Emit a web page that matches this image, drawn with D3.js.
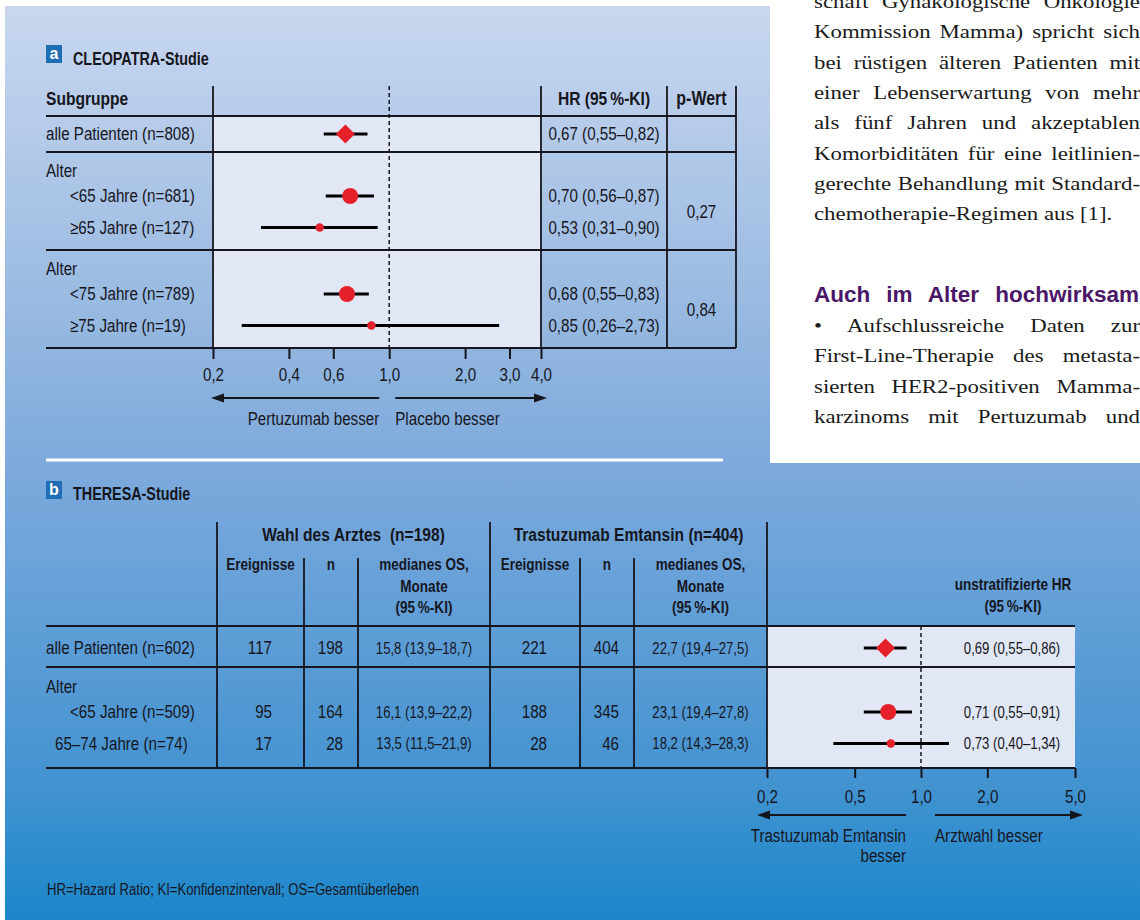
<!DOCTYPE html>
<html>
<head>
<meta charset="utf-8">
<script src="https://cdn.jsdelivr.net/npm/d3@7"></script>
<style>
  html, body { margin: 0; padding: 0; background: #fff; }
  svg { display: block; }
  .cn { font-family: "Liberation Sans", Arial, sans-serif; }
  .serif { font-family: "Liberation Serif", "Times New Roman", serif; }
  .head { font-family: "Liberation Sans", Arial, sans-serif; }
</style>
</head>
<body>
<svg id="chart" width="1140" height="920"></svg>
<script>
// ---------- CLEOPATRA subgroup data ----------
const cleoLabels = ["alle Patienten (n=808)", "<65 Jahre (n=681)", "≥65 Jahre (n=127)", "<75 Jahre (n=789)", "≥75 Jahre (n=19)"];
const cleoGroup  = [0, 1, 1, 2, 2];
const cleoGroupTitles = ["", "Alter", "Alter"];
const cleoPValues = ["", "0,27", "0,84"];
const cleoN  = [808, 681, 127, 789, 19];
const cleoHR = [0.67, 0.70, 0.53, 0.68, 0.85];
const cleoLo = [0.55, 0.56, 0.31, 0.55, 0.26];
const cleoHi = [0.82, 0.87, 0.90, 0.83, 2.73];
const cleoTicks = [0.2, 0.4, 0.6, 1.0, 2.0, 3.0, 4.0];

// ---------- THERESA subgroup data ----------
const thLabels = ["alle Patienten (n=602)", "<65 Jahre (n=509)", "65–74 Jahre (n=74)"];
const thGroup  = [0, 1, 1];
const thGroupTitles = ["", "Alter"];
const thN = [602, 509, 74];
const pcEvents = [117, 95, 17];
const pcN      = [198, 164, 28];
const pcOS     = ["15,8 (13,9–18,7)", "16,1 (13,9–22,2)", "13,5 (11,5–21,9)"];
const tdEvents = [221, 188, 28];
const tdN      = [404, 345, 46];
const tdOS     = ["22,7 (19,4–27,5)", "23,1 (19,4–27,8)", "18,2 (14,3–28,3)"];
const thHR = [0.69, 0.71, 0.73];
const thLo = [0.55, 0.55, 0.40];
const thHi = [0.86, 0.91, 1.34];
const thTicks = [0.2, 0.5, 1.0, 2.0, 5.0];

// ---------- running article text beside the figure ----------
const columnLines = [
  "schaft Gynäkologische Onkologie",
  "Kommission Mamma) spricht sich",
  "bei rüstigen älteren Patienten mit",
  "einer Lebenserwartung von mehr",
  "als fünf Jahren und akzeptablen",
  "Komorbiditäten für eine leitlinien-",
  "gerechte Behandlung mit Standard-",
  "chemotherapie-Regimen aus [1]."
];
const columnHeading = "Auch im Alter hochwirksam";
const columnLines2 = [
  "• Aufschlussreiche Daten zur",
  "First-Line-Therapie des metasta-",
  "sierten HER2-positiven Mamma-",
  "karzinoms mit Pertuzumab und"
];

// ---------- setup ----------
const W = 1140, H = 920;
const ink = "#16161e";
const red = "#e6202a";
const plotFill = "#e1e7f4";
const narrow = 0.82;      // horizontal squeeze for the condensed table face
const serifWide = 1.17;   // horizontal stretch for the article face
const svg = d3.select("#chart");
const de = d3.formatLocale({ decimal: ",", thousands: ".", grouping: [3], currency: ["", " €"] });
const f1 = de.format(".1f"), f2 = de.format(".2f");
const hrText = (h, l, u) => `${f2(h)} (${f2(l)}–${f2(u)})`;
const markerR = d3.scaleThreshold().domain([200]).range([4.2, 8]);

// background panel
const defs = svg.append("defs");
const grad = defs.append("linearGradient").attr("id", "bg").attr("x1", 0).attr("y1", 0).attr("x2", 0).attr("y2", 1);
[[0, "#c8d7ef"], [0.26, "#a3c0e4"], [0.5, "#7eaadb"], [0.65, "#64a0d8"], [0.85, "#4393d0"], [1, "#1b87ca"]]
  .forEach(([o, c]) => grad.append("stop").attr("offset", o).attr("stop-color", c));
svg.append("rect").attr("width", W).attr("height", H).attr("fill", "#fff");
svg.append("rect").attr("x", 5).attr("y", 6).attr("width", W - 5).attr("height", H - 6).attr("fill", "url(#bg)");
svg.append("rect").attr("x", 770).attr("y", 0).attr("width", W - 770).attr("height", 463).attr("fill", "#fff");

// row layout: groups stacked below a header line
function layoutRows(groupIdx, titles, top, p) {
  const rowY = [], titleY = [], seps = [top];
  let y = top;
  titles.forEach((t, g) => {
    const members = groupIdx.map((d, i) => d === g ? i : -1).filter(i => i >= 0);
    if (t) {
      titleY[g] = y + p.titleOff;
      members.forEach((i, k) => rowY[i] = y + p.firstT + p.step * k);
      y = rowY[members[members.length - 1]] + p.afterT;
    } else {
      titleY[g] = null;
      members.forEach((i, k) => rowY[i] = y + p.first + p.step * k);
      y = rowY[members[members.length - 1]] + p.after;
    }
    seps.push(y);
  });
  return { rowY, titleY, seps };
}

function hline(g, x1, x2, y, w = 1.8, c = ink) {
  g.append("line").attr("x1", x1).attr("x2", x2).attr("y1", y).attr("y2", y)
    .attr("stroke", c).attr("stroke-width", w);
}
function vline(g, x, y1, y2, w = 1.8) {
  g.append("line").attr("x1", x).attr("x2", x).attr("y1", y1).attr("y2", y2)
    .attr("stroke", ink).attr("stroke-width", w);
}
// condensed label: drawn at the origin and squeezed horizontally around its anchor
function txt(g, x, y, s, opt = {}) {
  return g.append("text").attr("class", "cn")
    .attr("transform", `translate(${x},${y}) scale(${narrow},1)`)
    .attr("font-size", opt.size || 18.5).attr("font-weight", opt.bold ? "bold" : null)
    .attr("text-anchor", opt.anchor || "start").attr("fill", opt.fill || ink)
    .style("white-space", "pre").text(s);
}
function arrow(g, x1, x2, y) {
  const dir = Math.sign(x2 - x1);
  g.append("line").attr("x1", x1).attr("x2", x2 - dir * 8).attr("y1", y).attr("y2", y)
    .attr("stroke", ink).attr("stroke-width", 2);
  g.append("path").attr("d", `M${x2},${y}L${x2 - dir * 13},${y - 4.5}L${x2 - dir * 13},${y + 4.5}Z`).attr("fill", ink);
}
function badge(g, x, y, letter) {
  g.append("rect").attr("x", x).attr("y", y).attr("width", 16).attr("height", 18).attr("fill", "#1f6db4");
  g.append("text").attr("class", "head").attr("x", x + 8).attr("y", y + 14).attr("text-anchor", "middle")
    .attr("font-size", 16).attr("font-weight", "bold").attr("fill", "#fff").text(letter);
}
function drawMarks(g, x, ys, hr, lo, hi, n, groupIdx) {
  const rows = hr.map((h, i) => ({ h, l: lo[i], u: hi[i], n: n[i], y: ys[i], overall: groupIdx[i] === 0 }));
  g.selectAll("line.ci").data(rows).join("line").attr("class", "ci")
    .attr("x1", d => x(d.l)).attr("x2", d => x(d.u)).attr("y1", d => d.y).attr("y2", d => d.y)
    .attr("stroke", "#000").attr("stroke-width", 3);
  g.selectAll("path.dia").data(rows.filter(d => d.overall)).join("path").attr("class", "dia")
    .attr("d", d => { const cx = x(d.h), s = 9.5; return `M${cx - s},${d.y}L${cx},${d.y - s}L${cx + s},${d.y}L${cx},${d.y + s}Z`; })
    .attr("fill", red);
  g.selectAll("circle.pt").data(rows.filter(d => !d.overall)).join("circle").attr("class", "pt")
    .attr("cx", d => x(d.h)).attr("cy", d => d.y).attr("r", d => markerR(d.n)).attr("fill", red);
}
function styleAxis(ax) {
  ax.select(".domain").remove();
  ax.selectAll(".tick line").attr("stroke", ink).attr("stroke-width", 2);
  ax.selectAll(".tick text").attr("class", "cn").attr("font-size", 18.5).attr("fill", ink)
    .attr("transform", `scale(${narrow},1)`);
}

// ================= Panel a: CLEOPATRA =================
const ga = svg.append("g");
badge(ga, 46, 45, "a");
txt(ga, 73, 65, "CLEOPATRA-Studie", { bold: true, size: 17.5 });

const aL = 46, aLab = 213, aPlotR = 541, aHrR = 667, aR = 736, aTop = 86, aHead = 116;
const xA = d3.scaleLog().domain([0.2, 4]).range([aLab, aPlotR]);
const LA = layoutRows(cleoGroup, cleoGroupTitles, aHead, { first: 18, after: 18, titleOff: 19, firstT: 44, step: 31.5, afterT: 22.5 });
const aBottom = LA.seps[LA.seps.length - 1];

ga.append("rect").attr("x", aLab).attr("y", aHead).attr("width", aPlotR - aLab).attr("height", aBottom - aHead).attr("fill", plotFill);
ga.append("line").attr("x1", xA(1)).attr("x2", xA(1)).attr("y1", aTop).attr("y2", aBottom)
  .attr("stroke", ink).attr("stroke-width", 1.5).attr("stroke-dasharray", "4,3");
LA.seps.forEach(y => hline(ga, aL, aR, y));
[aLab, aPlotR, aHrR, aR].forEach(x => vline(ga, x, aTop, aBottom));

txt(ga, aL, 105, "Subgruppe", { bold: true, size: 19 });
txt(ga, (aPlotR + aHrR) / 2, 105, "HR (95\u2009%-KI)", { bold: true, anchor: "middle", size: 19 });
txt(ga, (aHrR + aR) / 2, 105, "p-Wert", { bold: true, anchor: "middle", size: 19.5 });

cleoGroupTitles.forEach((t, g) => { if (t) txt(ga, aL, LA.titleY[g] + 6, t); });
cleoLabels.forEach((s, i) => txt(ga, cleoGroup[i] ? 70 : aL, LA.rowY[i] + 6, s));
cleoHR.forEach((h, i) => txt(ga, (aPlotR + aHrR) / 2, LA.rowY[i] + 6, hrText(h, cleoLo[i], cleoHi[i]), { anchor: "middle" }));
cleoPValues.forEach((p, g) => {
  if (!p) return;
  const ys = cleoGroup.map((d, i) => d === g ? LA.rowY[i] : null).filter(v => v !== null);
  txt(ga, (aHrR + aR) / 2, d3.mean(ys) + 6, p, { anchor: "middle" });
});
drawMarks(ga.append("g"), xA, LA.rowY, cleoHR, cleoLo, cleoHi, cleoN, cleoGroup);

const axA = ga.append("g").attr("transform", `translate(0,${aBottom})`)
  .call(d3.axisBottom(xA).tickValues(cleoTicks).tickFormat(f1).tickSize(11).tickPadding(9));
styleAxis(axA);

arrow(ga, xA(1) - 10, xA(0.2) - 2, 398);
arrow(ga, xA(1) + 6, xA(4) + 6, 398);
txt(ga, xA(1) - 10, 425, "Pertuzumab besser", { anchor: "end" });
txt(ga, xA(1) + 6, 425, "Placebo besser");

hline(ga, 46, 723, 460, 3, "#fff");

// ================= Panel b: THERESA =================
const gb = svg.append("g");
badge(gb, 46, 481, "b");
txt(gb, 73, 500, "THERESA-Studie", { bold: true, size: 17.5 });

const bL = 46, bLab = 217, bC1 = 304, bC2 = 358, bMid = 490, bC4 = 580, bC5 = 634, bPlotL = 767, bPlotR = 1075;
const bTop = 522, bSub = 558, bHead = 626;
const xB = d3.scaleLog().domain([0.2, 5]).range([bPlotL, bPlotR]);
const LB = layoutRows(thGroup, thGroupTitles, bHead, { first: 22, after: 19, titleOff: 20, firstT: 45, step: 31.5, afterT: 24.5 });
const bBottom = LB.seps[LB.seps.length - 1];

gb.append("rect").attr("x", bPlotL).attr("y", bHead).attr("width", bPlotR - bPlotL).attr("height", bBottom - bHead).attr("fill", plotFill);
gb.append("line").attr("x1", xB(1)).attr("x2", xB(1)).attr("y1", bHead).attr("y2", bBottom)
  .attr("stroke", ink).attr("stroke-width", 1.5).attr("stroke-dasharray", "4,3");
LB.seps.forEach(y => hline(gb, bL, bPlotR, y));
[bLab, bMid, bPlotL].forEach(x => vline(gb, x, bTop, bBottom));
[bC1, bC2, bC4, bC5].forEach(x => vline(gb, x, bSub, bBottom));

txt(gb, (bLab + bMid) / 2, 541, "Wahl des Arztes  (n=198)", { bold: true, anchor: "middle", size: 19 });
txt(gb, (bMid + bPlotL) / 2, 541, "Trastuzumab Emtansin (n=404)", { bold: true, anchor: "middle", size: 19 });
const subHead = [[bLab, bC1, ["Ereignisse"]], [bC1, bC2, ["n"]], [bC2, bMid, ["medianes OS,", "Monate", "(95\u2009%-KI)"]],
                 [bMid, bC4, ["Ereignisse"]], [bC4, bC5, ["n"]], [bC5, bPlotL, ["medianes OS,", "Monate", "(95\u2009%-KI)"]]];
subHead.forEach(([a, b, lines]) => lines.forEach((s, k) => txt(gb, (a + b) / 2, 570 + 21.5 * k, s, { bold: true, size: 16.5, anchor: "middle" })));
txt(gb, 1013, 590, "unstratifizierte HR", { bold: true, size: 16.5, anchor: "middle" });
txt(gb, 1013, 611.5, "(95\u2009%-KI)", { bold: true, size: 16.5, anchor: "middle" });

const thIndent = [0, 24, 9];
thGroupTitles.forEach((t, g) => { if (t) txt(gb, bL, LB.titleY[g] + 6, t); });
thLabels.forEach((s, i) => txt(gb, bL + thIndent[i], LB.rowY[i] + 6, s));
pcEvents.forEach((v, i) => txt(gb, bC1 - 32, LB.rowY[i] + 6, v, { anchor: "end" }));
pcN.forEach((v, i) => txt(gb, bC2 - 15, LB.rowY[i] + 6, v, { anchor: "end" }));
pcOS.forEach((v, i) => txt(gb, (bC2 + bMid) / 2, LB.rowY[i] + 5.5, v, { anchor: "middle", size: 16 }));
tdEvents.forEach((v, i) => txt(gb, bC4 - 33, LB.rowY[i] + 6, v, { anchor: "end" }));
tdN.forEach((v, i) => txt(gb, bC5 - 15, LB.rowY[i] + 6, v, { anchor: "end" }));
tdOS.forEach((v, i) => txt(gb, (bC5 + bPlotL) / 2, LB.rowY[i] + 5.5, v, { anchor: "middle", size: 16 }));
thHR.forEach((h, i) => txt(gb, 1012, LB.rowY[i] + 5.5, hrText(h, thLo[i], thHi[i]), { anchor: "middle", size: 16 }));
drawMarks(gb.append("g"), xB, LB.rowY, thHR, thLo, thHi, thN, thGroup);

const axB = gb.append("g").attr("transform", `translate(0,${bBottom})`)
  .call(d3.axisBottom(xB).tickValues(thTicks).tickFormat(f1).tickSize(10).tickPadding(12));
styleAxis(axB);

arrow(gb, xB(1) - 15, xB(0.2) - 10, 815);
arrow(gb, xB(1) + 14, xB(5) + 8, 815);
txt(gb, xB(1) - 15, 842, "Trastuzumab Emtansin", { anchor: "end" });
txt(gb, xB(1) - 15, 862, "besser", { anchor: "end" });
txt(gb, xB(1) + 14, 842, "Arztwahl besser");

txt(svg, 47, 895, "HR=Hazard Ratio; KI=Konfidenzintervall; OS=Gesamtüberleben", { size: 16 });

// ================= article column =================
const gc = svg.append("g");
const colX = 814, colW = 326;
function justify(sel, width, sx) {
  const natural = sel.node().getComputedTextLength();
  const gaps = (sel.text().match(/ /g) || []).length;
  const extra = width / sx - natural;
  if (gaps && extra > 0) sel.style("word-spacing", (extra / gaps) + "px");
}
function serifLine(s, y) {
  return gc.append("text").attr("class", "serif")
    .attr("transform", `translate(${colX},${y}) scale(${serifWide},1)`)
    .attr("font-size", 19.5).attr("fill", "#1a1a1a").text(s);
}
columnLines.forEach((s, i) => {
  const t = serifLine(s, 8 + 30.3 * i);
  if (i < columnLines.length - 1) justify(t, colW, serifWide);
});
const hd = gc.append("text").attr("class", "head").attr("x", colX).attr("y", 302).attr("font-size", 22.5)
  .attr("font-weight", "bold").attr("fill", "#4b1668").text(columnHeading);
justify(hd, 325, 1);
columnLines2.forEach((s, i) => justify(serifLine(s, 332 + 30.3 * i), colW, serifWide));
</script>
</body>
</html>
